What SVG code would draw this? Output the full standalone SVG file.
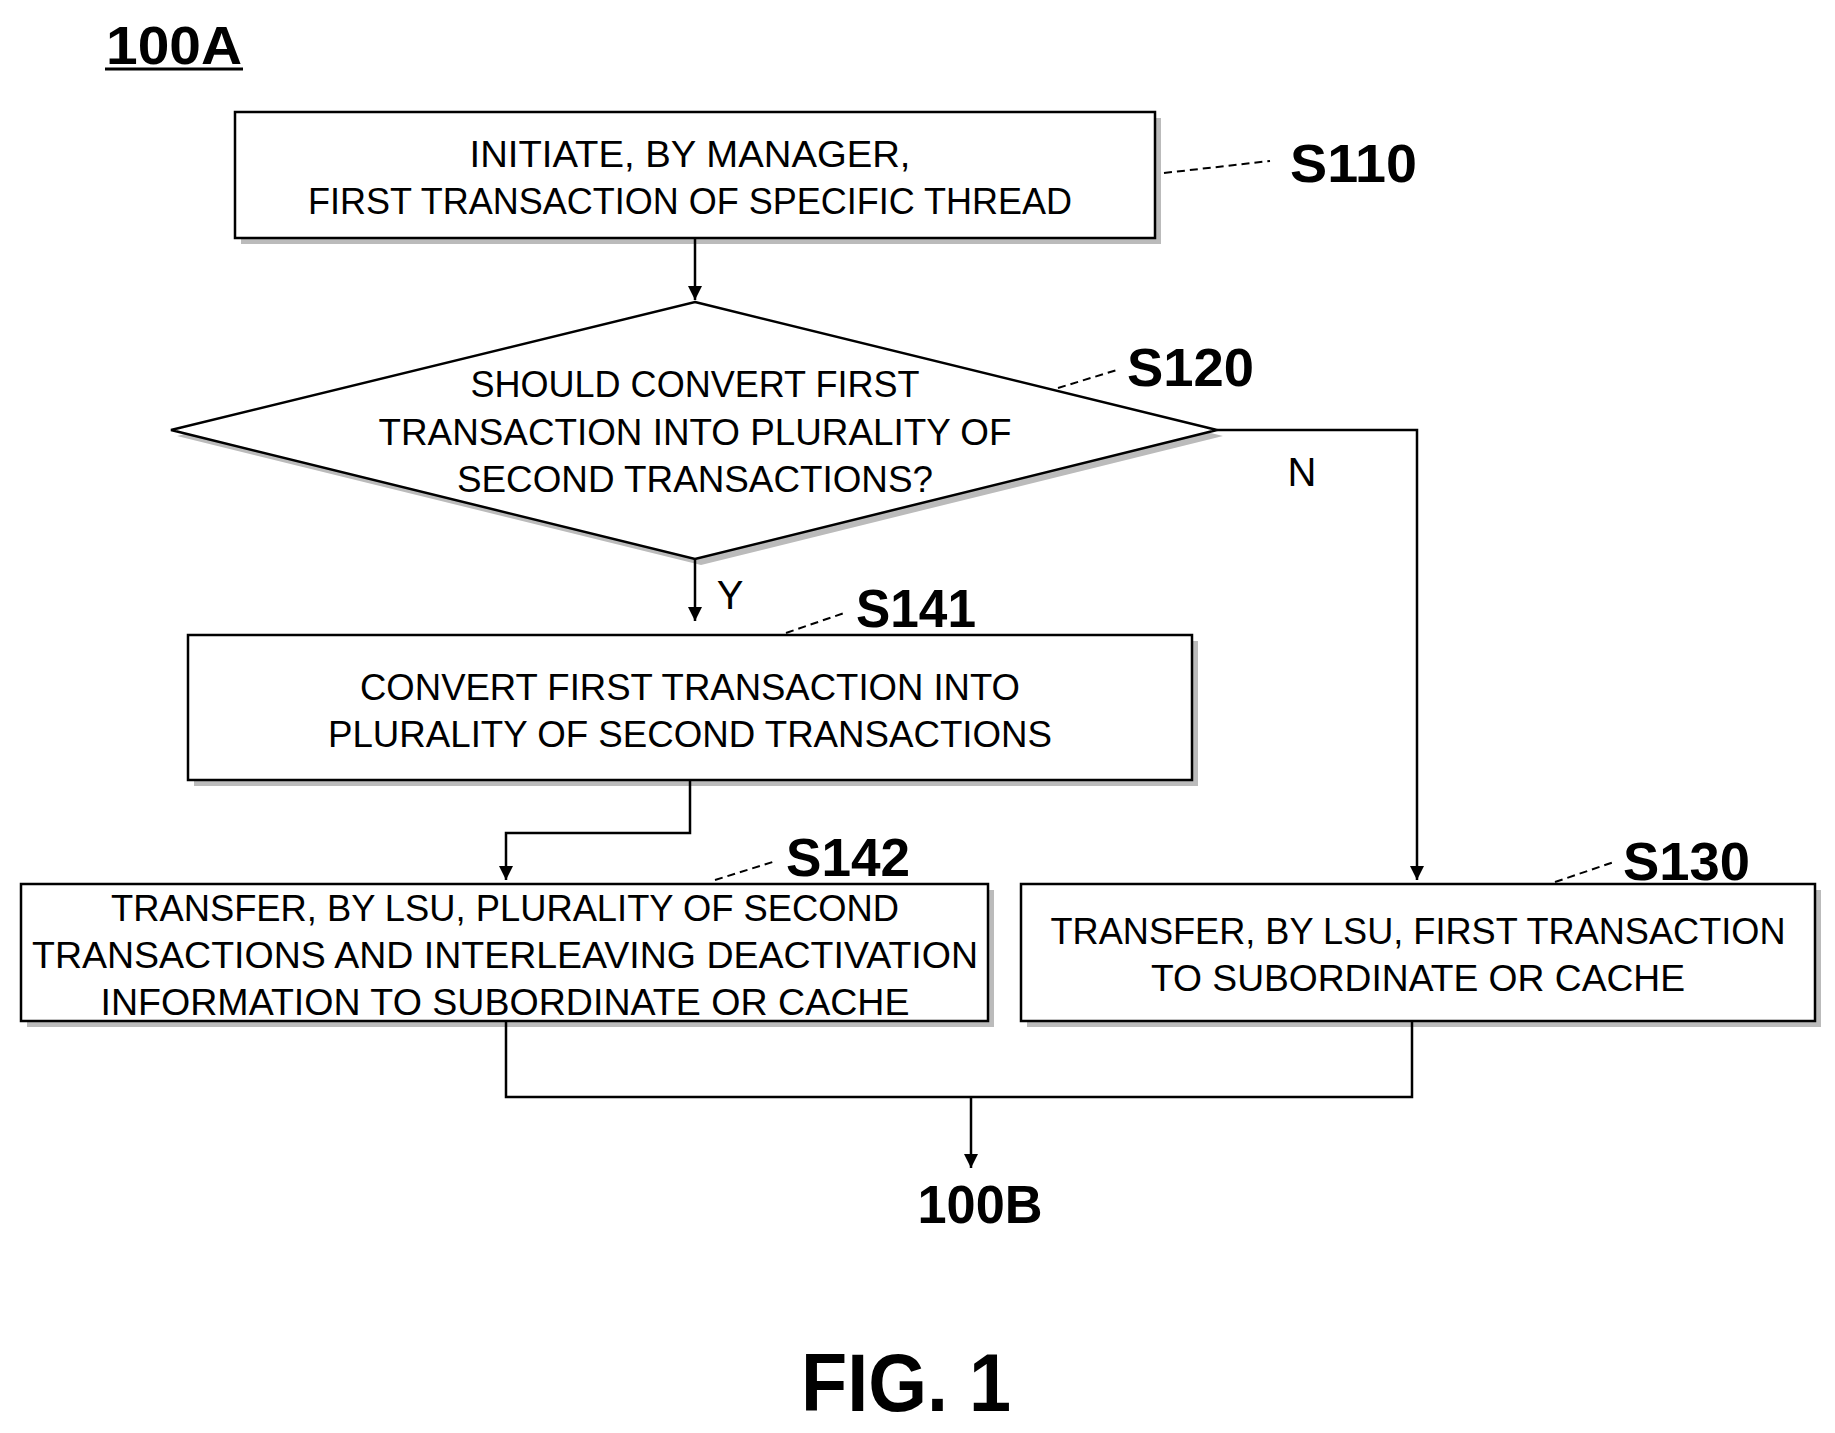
<svg xmlns="http://www.w3.org/2000/svg" width="1835" height="1433" viewBox="0 0 1835 1433">
<defs>
<style>
.box{fill:#fff;stroke:#000;stroke-width:2.5}
.sh{fill:#bbb}
.t{font-family:"Liberation Sans",Arial,sans-serif;font-size:37px;text-anchor:middle;fill:#000}
.lab{font-family:"Liberation Sans",Arial,sans-serif;font-size:54px;font-weight:bold;fill:#000}
.ln{fill:none;stroke:#000;stroke-width:2.5}
.ld{fill:none;stroke:#000;stroke-width:2;stroke-dasharray:8,5}
</style>
<marker id="ar" viewBox="0 0 10 10" refX="10" refY="5" markerWidth="14" markerHeight="14" markerUnits="userSpaceOnUse" orient="auto"><path d="M0,0L10,5L0,10z" fill="#000"/></marker>
</defs>
<rect width="1835" height="1433" fill="#fff"/>
<g id="title"><text class="lab" x="106" y="64" textLength="136" lengthAdjust="spacingAndGlyphs">100A</text><line x1="105" y1="69" x2="243" y2="69" stroke="#000" stroke-width="3"/></g>
<g id="S110">
<rect class="sh" x="241" y="118" width="920" height="126"/>
<rect class="box" x="235" y="112" width="920" height="126"/>
<text class="t" x="690" y="167" textLength="441" lengthAdjust="spacingAndGlyphs">INITIATE, BY MANAGER,</text>
<text class="t" x="690" y="214" textLength="764" lengthAdjust="spacingAndGlyphs">FIRST TRANSACTION OF SPECIFIC THREAD</text>
<path class="ld" d="M1164,173L1270,161"/><text class="lab" x="1290" y="182" textLength="127" lengthAdjust="spacingAndGlyphs">S110</text>
</g>
<g id="S120">
<polygon class="sh" points="701,308 1223,436 701,565 177,436"/>
<polygon class="box" points="695,302 1217,430 695,559 171,430"/>
<text class="t" x="695" y="397" textLength="449" lengthAdjust="spacingAndGlyphs">SHOULD CONVERT FIRST</text>
<text class="t" x="695" y="445" textLength="633" lengthAdjust="spacingAndGlyphs">TRANSACTION INTO PLURALITY OF</text>
<text class="t" x="695" y="492" textLength="476" lengthAdjust="spacingAndGlyphs">SECOND TRANSACTIONS?</text>
<path class="ld" d="M1058,388L1117,370"/><text class="lab" x="1127" y="386" textLength="127" lengthAdjust="spacingAndGlyphs">S120</text>
</g>
<g id="S141">
<rect class="sh" x="194" y="641" width="1004" height="145"/>
<rect class="box" x="188" y="635" width="1004" height="145"/>
<text class="t" x="690" y="700" textLength="660" lengthAdjust="spacingAndGlyphs">CONVERT FIRST TRANSACTION INTO</text>
<text class="t" x="690" y="747" textLength="724" lengthAdjust="spacingAndGlyphs">PLURALITY OF SECOND TRANSACTIONS</text>
<path class="ld" d="M786,633L847,612"/><text class="lab" x="856" y="627" textLength="120" lengthAdjust="spacingAndGlyphs">S141</text>
</g>
<g id="S142">
<rect class="sh" x="27" y="890" width="967" height="137"/>
<rect class="box" x="21" y="884" width="967" height="137"/>
<text class="t" x="505" y="921" textLength="788" lengthAdjust="spacingAndGlyphs">TRANSFER, BY LSU, PLURALITY OF SECOND</text>
<text class="t" x="505" y="968" textLength="946" lengthAdjust="spacingAndGlyphs">TRANSACTIONS AND INTERLEAVING DEACTIVATION</text>
<text class="t" x="505" y="1015" textLength="809" lengthAdjust="spacingAndGlyphs">INFORMATION TO SUBORDINATE OR CACHE</text>
<path class="ld" d="M715,880L776,861"/><text class="lab" x="786" y="876" textLength="124" lengthAdjust="spacingAndGlyphs">S142</text>
</g>
<g id="S130">
<rect class="sh" x="1027" y="890" width="794" height="137"/>
<rect class="box" x="1021" y="884" width="794" height="137"/>
<text class="t" x="1418" y="944" textLength="735" lengthAdjust="spacingAndGlyphs">TRANSFER, BY LSU, FIRST TRANSACTION</text>
<text class="t" x="1418" y="991" textLength="534" lengthAdjust="spacingAndGlyphs">TO SUBORDINATE OR CACHE</text>
<path class="ld" d="M1555,882L1614,862"/><text class="lab" x="1623" y="880" textLength="127" lengthAdjust="spacingAndGlyphs">S130</text>
</g>
<g id="connectors">
<path class="ln" d="M695,238V300" marker-end="url(#ar)"/>
<path class="ln" d="M1217,430H1417V880" marker-end="url(#ar)"/>
<path class="ln" d="M695,559V621" marker-end="url(#ar)"/>
<path class="ln" d="M690,780V833H506V880" marker-end="url(#ar)"/>
<path class="ln" d="M506,1021V1097H1412V1021"/>
<path class="ln" d="M971,1097V1168" marker-end="url(#ar)"/>
<text class="t" x="1302" y="486" style="font-size:40px">N</text>
<text class="t" x="730" y="609" style="font-size:40px">Y</text>
</g>
<g id="end"><text class="lab" x="980" y="1223" text-anchor="middle" textLength="125" lengthAdjust="spacingAndGlyphs">100B</text></g>
<g id="fig"><text class="lab" x="906" y="1411" text-anchor="middle" style="font-size:82px" textLength="210" lengthAdjust="spacingAndGlyphs">FIG. 1</text></g>
</svg>
